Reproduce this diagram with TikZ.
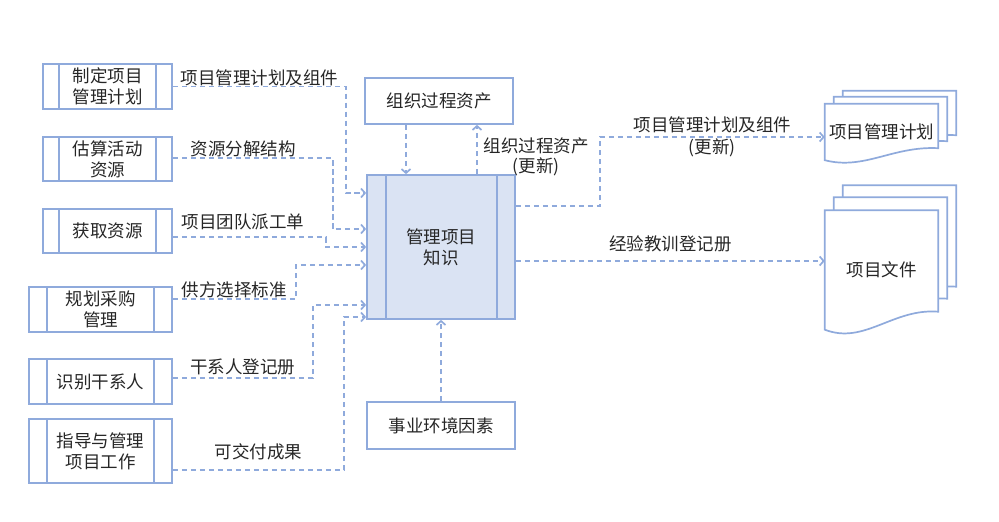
\documentclass[tikz,border=0pt]{standalone}
\usepackage{fontspec}
\setmainfont{Noto Sans CJK SC}
\usepackage{tikz}
\usetikzlibrary{arrows.meta,positioning,calc,backgrounds}
\definecolor{pmline}{HTML}{8FAADC}
\definecolor{pmfill}{HTML}{DAE3F3}
% one page of a document stack: node, offset, rise of the wavy bottom
\newcommand{\docpage}[3]{%
  \draw[page] ($(#1.south west)+(#2)$) -- ($(#1.north west)+(#2)$) -- ($(#1.north east)+(#2)$)
    -- ($(#1.south east)+(#2)+(0,-#3)$)
    .. controls ($(#1.south west)!0.6!(#1.south east)+(#2)+(0,-1.2*#3)$)
    and ($(#1.south west)!0.35!(#1.south east)+(#2)+(0,0.85*#3)$) .. ($(#1.south west)+(#2)$) -- cycle;}

\begin{document}
\begin{tikzpicture}[
  x=1pt, y=-1pt,
  font=\fontsize{17.5}{21}\selectfont,
  box/.style={draw=pmline, line width=1.7pt, minimum width=148pt,
    minimum height=46pt, align=center, inner sep=0pt, text=black!85},
  bars/.style 2 args={path picture={
    \draw[pmline, line width=1.7pt] ([xshift=#1]path picture bounding box.north west)
      -- ([xshift=#1]path picture bounding box.south west);
    \draw[pmline, line width=1.7pt] ([xshift=-#2]path picture bounding box.north east)
      -- ([xshift=-#2]path picture bounding box.south east);}},
  doc/.style={minimum width=113pt, inner sep=0pt, text=black!85},
  page/.style={draw=pmline, line width=1.7pt, fill=white},
  flow/.style={draw=pmline, line width=1.7pt, dash pattern=on 5.5pt off 3.5pt,
    -{Straight Barb[length=4pt,width=9pt]}},
  lbl/.style={inner sep=0pt, text=black!85}
]
  \useasboundingbox (0,0) rectangle (999,522);

  % Nodes
  \node[box, bars={16pt}{16pt}, minimum width=129pt, minimum height=45pt] (plandev) at (107.5,86.5) {制定项目\\管理计划};
  \node[box, bars={16pt}{16pt}, minimum width=129pt, minimum height=44pt] (estres) at (107.5,159) {估算活动\\资源};
  \node[box, bars={16pt}{16pt}, minimum width=129pt, minimum height=44pt] (acqres) at (107.5,231) {获取资源};
  \node[box, bars={18pt}{18pt}, minimum width=143pt, minimum height=45pt] (planproc) at (100.5,309.5) {规划采购\\管理};
  \node[box, bars={18pt}{18pt}, minimum width=143pt, minimum height=45pt] (idstake) at (100.5,381.5) {识别干系人};
  \node[box, bars={18pt}{18pt}, minimum width=143pt, minimum height=64pt] (dirwork) at (100.5,451) {指导与管理\\项目工作};

  \node[box, bars={19pt}{18pt}, fill=pmfill, minimum height=144pt] (mk) at (441,247) {管理项目\\知识};
  \node[box] (opa) at (439,101) {组织过程资产};
  \node[box, minimum height=47pt] (eef) at (441,425.5) {事业环境因素};

  \node[doc, minimum height=56pt] (pmplan) at (881.5,132) {项目管理计划};
  \node[doc, minimum height=119pt] (pdocs) at (881.5,270) {项目文件};
  \begin{scope}[on background layer]
    \docpage{pmplan}{18,-13}{12}
    \docpage{pmplan}{9,-7}{12}
    \docpage{pmplan}{0,0}{12}
    \docpage{pdocs}{18,-25}{18}
    \docpage{pdocs}{9,-13}{18}
    \docpage{pdocs}{0,0}{18}
  \end{scope}

  % Inputs
  \draw[flow] (plandev.east) -- node[lbl, above]{项目管理计划及组件} ++(173,0) |- ($(mk.west)+(0,-54)$);
  \draw[flow] ($(estres.east)+(0,-1)$) -- node[lbl, above, pos=0.44]{资源分解结构} ++(160,0) |- ($(mk.west)+(0,-18)$);
  \draw[flow] ($(acqres.east)+(0,6)$) -- node[lbl, above=6pt, pos=0.46]{项目团队派工单} ++(153,0) |- (mk.west);
  \draw[flow] ($(planproc.east)+(0,-10.5)$) -- node[lbl, above]{供方选择标准} ++(123,0) |- ($(mk.west)+(0,18)$);
  \draw[flow] ($(idstake.east)+(0,-3.5)$) -- node[lbl, above=2.5pt]{干系人登记册} ++(140,0) |- ($(mk.west)+(0,58)$);
  \draw[flow] ($(dirwork.east)+(0,19)$) -- node[lbl, above=9pt]{可交付成果} ++(171,0) |- ($(mk.west)+(0,70)$);

  % Assets and environment
  \draw[flow] ($(opa.south)+(-33,0)$) -- ($(mk.north)+(-35,0)$);
  \draw[flow] ($(mk.north)+(36,0)$) -- node[lbl, right, xshift=6pt, yshift=-7.5pt, align=center,
    font=\fontsize{17.5}{20}\selectfont]{组织过程资产\\(更新)} ($(opa.south)+(38,0)$);
  \draw[flow] (eef) -- (mk);

  % Outputs
  \draw[flow] ($(mk.east)+(0,-41)$) -- ++(84,0) |- node[lbl, pos=0.75, align=center,
    font=\fontsize{17.5}{22}\selectfont]{项目管理计划及组件\\(更新)} ($(pmplan.west)+(0,5)$);
  \draw[flow] ($(mk.east)+(0,14)$) -- node[lbl, above=8.5pt]{经验教训登记册} ($(pdocs.west)+(0,-9)$);
\end{tikzpicture}
\end{document}
